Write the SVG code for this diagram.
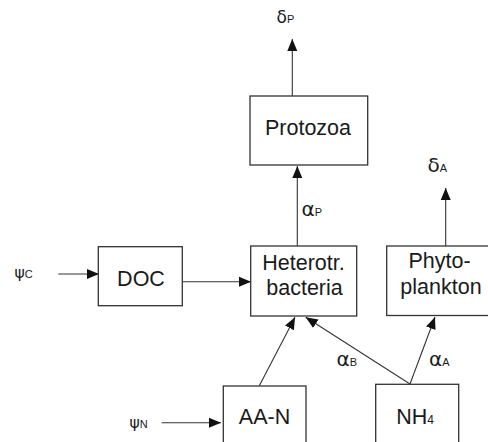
<svg xmlns="http://www.w3.org/2000/svg" width="488" height="442" viewBox="0 0 488 442">
<defs>
<style>
.box{fill:#fff;stroke:#333;stroke-width:1.3}
.lbl{font-family:"Liberation Sans",Arial,sans-serif;font-size:21.5px;fill:#1a1a1a;text-anchor:middle}
.gl{font-family:"Liberation Sans",Arial,sans-serif;font-size:11px;fill:#1a1a1a}
.g{font-family:"DejaVu Sans",sans-serif}
.con{stroke:#333;stroke-width:1.1;fill:none;marker-end:url(#ah)}
</style>
<marker id="ah" markerUnits="userSpaceOnUse" markerWidth="12" markerHeight="12" viewBox="0 0 12 10" refX="12" refY="5" orient="auto">
<path d="M0,0 L12,5 L0,10 Z" fill="#111"/>
</marker>
</defs>
<rect width="488" height="442" fill="#fff"/>
<g id="connectors">
<line class="con" x1="292.3" y1="96" x2="292.3" y2="39"/>
<line class="con" x1="297.3" y1="246" x2="297.3" y2="166"/>
<line class="con" x1="445.7" y1="246" x2="445.7" y2="188"/>
<line class="con" x1="58.3" y1="274" x2="99" y2="274"/>
<line class="con" x1="182.3" y1="281.7" x2="251" y2="281.7"/>
<line class="con" x1="161.7" y1="422.7" x2="221" y2="422.7"/>
<line class="con" x1="259.3" y1="385.7" x2="295" y2="317.3"/>
<line class="con" x1="410" y1="384" x2="305.7" y2="317.3"/>
<line class="con" x1="410" y1="384" x2="435" y2="317"/>
</g>
<g id="labels">
<text class="gl" x="276.5" y="23"><tspan class="g" font-size="17">δ</tspan>P</text>
<text class="gl" x="427.5" y="172"><tspan class="g" font-size="20">δ</tspan>A</text>
<text class="gl" x="301.5" y="216"><tspan class="g" font-size="20">α</tspan>P</text>
<text class="gl" x="336.5" y="366"><tspan class="g" font-size="20">α</tspan>B</text>
<text class="gl" x="429" y="366"><tspan class="g" font-size="20">α</tspan>A</text>
<text class="gl" x="14.5" y="278"><tspan class="g" font-size="15.5">ψ</tspan>C</text>
<text class="gl" x="129.5" y="428"><tspan class="g" font-size="15.5">ψ</tspan>N</text>
</g>
<g id="protozoa">
<rect class="box" x="250" y="96" width="117.7" height="69"/>
<text class="lbl" x="308" y="135">Protozoa</text>
</g>
<g id="doc">
<rect class="box" x="98.3" y="246.7" width="84" height="59"/>
<text class="lbl" x="141" y="286">DOC</text>
</g>
<g id="bacteria">
<rect class="box" x="250.7" y="246" width="106" height="70"/>
<text class="lbl" x="303.5" y="270">Heterotr.</text>
<text class="lbl" x="304.5" y="295">bacteria</text>
</g>
<g id="phytoplankton">
<rect class="box" x="386.7" y="246" width="105" height="69.5"/>
<text class="lbl" x="439.5" y="268">Phyto-</text>
<text class="lbl" x="441" y="294">plankton</text>
</g>
<g id="aan">
<rect class="box" x="223.3" y="386" width="82.7" height="60"/>
<text class="lbl" x="264.5" y="423.5">AA-N</text>
</g>
<g id="nh4">
<rect class="box" x="375.7" y="384.3" width="83" height="62"/>
<text class="lbl" x="415" y="423.5">NH<tspan font-size="12">4</tspan></text>
</g>
</svg>
